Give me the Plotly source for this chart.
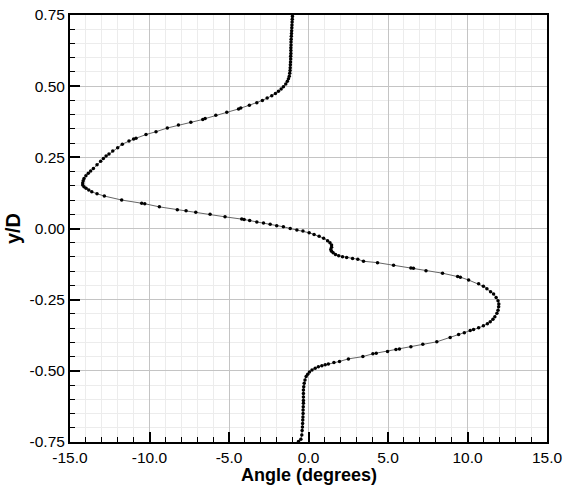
import plotly.graph_objects as go

angle_deg = [
    -1.01, -1.02, -1.03, -1.04, -1.05, -1.06, -1.07, -1.08, -1.09, -1.10,
    -1.10, -1.11, -1.11, -1.11, -1.12, -1.12, -1.13, -1.14, -1.15, -1.16,
    -1.18, -1.21, -1.26, -1.33, -1.43, -1.58, -1.72, -1.89, -2.08, -2.31,
    -2.60, -2.90, -3.25, -3.72, -4.26, -4.40, -5.14, -5.83, -6.50, -6.65,
    -7.40, -8.18, -8.88, -9.59, -10.22, -10.85, -11.00, -11.29, -11.71, -12.00,
    -12.31, -12.55, -12.73, -12.90, -13.07, -13.30, -13.53, -13.70, -13.85, -14.00,
    -14.12, -14.17, -14.20, -14.20, -14.12, -13.99, -13.82, -13.63, -13.30, -12.84,
    -11.75, -10.49, -10.30, -9.38, -8.25, -7.70, -7.09, -6.19, -5.25, -4.20,
    -4.05, -3.70, -3.25, -2.83, -2.41, -2.00, -1.58, -1.15, -0.73, -0.35,
    0.04, 0.35, 0.67, 0.95, 1.20, 1.35, 1.45, 1.45, 1.40, 1.45,
    1.55, 1.70, 1.90, 2.14, 2.40, 2.77, 3.10, 3.46, 4.34, 5.35,
    6.44, 6.60, 7.39, 8.43, 9.38, 9.55, 10.07, 10.70, 11.00, 11.22,
    11.45, 11.64, 11.80, 11.92, 11.97, 11.96, 11.92, 11.85, 11.72, 11.60,
    11.43, 11.25, 11.00, 10.70, 10.38, 10.17, 9.80, 9.44, 8.91, 8.07,
    7.19, 6.44, 5.72, 5.50, 4.97, 4.26, 4.05, 3.42, 2.51, 1.95,
    1.60, 1.25, 1.05, 0.84, 0.62, 0.42, 0.22, 0.06, -0.05, -0.15,
    -0.22, -0.27, -0.30, -0.32, -0.32, -0.32, -0.32, -0.32, -0.33, -0.34,
    -0.34, -0.35, -0.36, -0.37, -0.38, -0.40, -0.42, -0.48, -0.63,
]
y_over_d = [
    0.745, 0.735, 0.725, 0.715, 0.705, 0.695, 0.685, 0.675, 0.665, 0.655,
    0.645, 0.635, 0.625, 0.615, 0.605, 0.595, 0.585, 0.575, 0.565, 0.555,
    0.545, 0.535, 0.526, 0.517, 0.508, 0.498, 0.490, 0.482, 0.474, 0.466,
    0.458, 0.450, 0.442, 0.433, 0.423, 0.420, 0.408, 0.398, 0.386, 0.383,
    0.373, 0.364, 0.353, 0.340, 0.330, 0.317, 0.314, 0.307, 0.296, 0.284,
    0.272, 0.262, 0.255, 0.246, 0.236, 0.224, 0.211, 0.202, 0.194, 0.185,
    0.176, 0.168, 0.160, 0.153, 0.147, 0.141, 0.135, 0.129, 0.122, 0.114,
    0.100, 0.089, 0.087, 0.076, 0.066, 0.062, 0.057, 0.050, 0.041, 0.033,
    0.032, 0.028, 0.023, 0.019, 0.015, 0.010, 0.006, 0.000, -0.005, -0.009,
    -0.015, -0.021, -0.027, -0.034, -0.043, -0.050, -0.058, -0.066, -0.074, -0.080,
    -0.085, -0.091, -0.096, -0.099, -0.102, -0.105, -0.108, -0.115, -0.120, -0.129,
    -0.139, -0.140, -0.148, -0.157, -0.169, -0.171, -0.181, -0.194, -0.203, -0.212,
    -0.222, -0.230, -0.242, -0.254, -0.265, -0.275, -0.287, -0.298, -0.310, -0.319,
    -0.328, -0.335, -0.342, -0.349, -0.355, -0.358, -0.366, -0.372, -0.383, -0.398,
    -0.407, -0.415, -0.423, -0.425, -0.432, -0.438, -0.440, -0.450, -0.458, -0.467,
    -0.471, -0.476, -0.479, -0.482, -0.486, -0.491, -0.497, -0.504, -0.512, -0.520,
    -0.532, -0.544, -0.556, -0.567, -0.580, -0.592, -0.604, -0.614, -0.626, -0.638,
    -0.650, -0.662, -0.673, -0.685, -0.697, -0.710, -0.725, -0.740, -0.748,
]

x_tick_vals = [-15, -10, -5, 0, 5, 10, 15]
x_tick_text = ["-15.0", "-10.0", "-5.0", "0.0", "5.0", "10.0", "15.0"]
y_tick_vals = [-0.75, -0.5, -0.25, 0.0, 0.25, 0.5, 0.75]
y_tick_text = ["-0.75", "-0.50", "-0.25", "0.00", "0.25", "0.50", "0.75"]

fig = go.Figure()
fig.add_trace(go.Scatter(
    x=angle_deg, y=y_over_d, mode="lines+markers",
    line=dict(color="#666666", width=1),
    marker=dict(color="black", size=3.5, symbol="circle"),
    showlegend=False,
))

font_family = "Liberation Sans, Arial, Helvetica, sans-serif"
axis_common = dict(
    showline=True, linecolor="black", linewidth=2, mirror=True,
    ticks="inside", ticklen=10, tickwidth=2, tickcolor="black",
    showgrid=True, gridcolor="#c4c4c4", gridwidth=1,
    zeroline=False, automargin=False,
    tickfont=dict(family=font_family, size=15.5, color="black"),
)

fig.update_layout(
    width=564, height=485,
    margin=dict(l=70, r=17, t=15, b=43),
    paper_bgcolor="white", plot_bgcolor="white",
    font=dict(family=font_family, color="black"),
    xaxis=dict(
        range=[-15, 15], tickvals=x_tick_vals, ticktext=x_tick_text,
        minor=dict(dtick=1, tick0=0, ticks="inside", ticklen=5, tickwidth=1, tickcolor="black",
                   showgrid=True, gridcolor="#ececec", gridwidth=1),
        **axis_common,
    ),
    yaxis=dict(
        range=[-0.75, 0.75], tickvals=y_tick_vals, ticktext=y_tick_text,
        title=dict(text="<b>y/D</b>", font=dict(size=20, family=font_family), standoff=4),
        minor=dict(dtick=0.05, tick0=0, ticks="inside", ticklen=5, tickwidth=1, tickcolor="black",
                   showgrid=True, gridcolor="#ececec", gridwidth=1),
        **axis_common,
    ),
    annotations=[dict(
        text="<b>Angle (degrees)</b>", xref="paper", yref="paper", x=0.5, y=0,
        xanchor="center", yanchor="top", yshift=-21, showarrow=False,
        font=dict(size=18, family=font_family, color="black"),
    )],
)

fig.write_html("out.html")
